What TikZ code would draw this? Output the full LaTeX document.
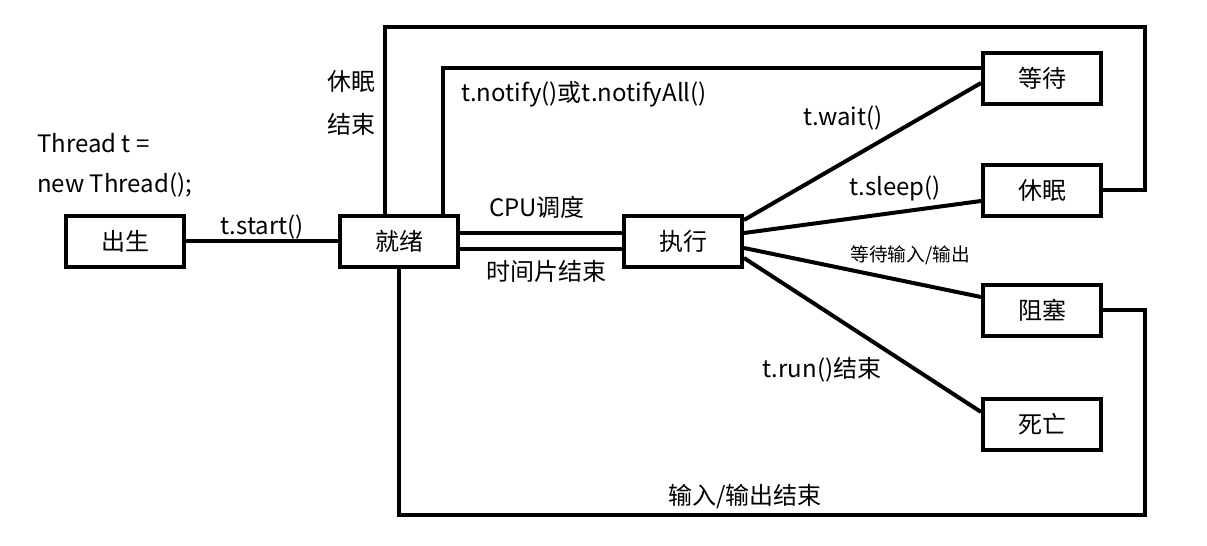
\documentclass[tikz,border=0pt]{standalone}
\usepackage{fontspec}
\setmainfont{Noto Sans CJK SC}
\usetikzlibrary{calc}

\tikzset{
  state/.style={draw, line width=3pt, minimum width=88.5pt, minimum height=38.25pt,
    inner sep=0pt, font=\fontsize{18pt}{21pt}\selectfont},
  lbl/.style={inner sep=0pt, font=\fontsize{18pt}{21pt}\selectfont},
  link/.style={line width=3pt}
}

\begin{document}
\begin{tikzpicture}[x=0.75pt,y=0.75pt,yscale=-1]
%set diagram left start at 0, and has height of 546
\useasboundingbox (0,0) rectangle (1207,546);

%Shape: states
\node[state] (cs) at (125,241) {出生};
\node[state] (jx) at (399,241) {就绪};
\node[state] (zx) at (683,241) {执行};
\node[state] (dd) at (1042,78) {等待};
\node[state] (xm) at (1042,190) {休眠};
\node[state] (zs) at (1042,310) {阻塞};
\node[state] (sw) at (1042,424) {死亡};

%corners of the loops
\coordinate (rtop) at (1145,27);
\coordinate (rbot) at (1145,515);

%Straight Lines
\draw[link] (cs) -- (jx);
\draw[link] ($(jx.east)+(0,-8)$) -- ($(zx.west)+(0,-8)$);
\draw[link] ($(jx.east)+(0,8)$) -- ($(zx.west)+(0,8)$);
\draw[link] ($(zx.east)+(0,-21)$) -- ($(dd.west)+(0,5)$);
\draw[link] ($(zx.east)+(0,-8)$) -- ($(xm.west)+(0,11)$);
\draw[link] ($(zx.east)+(0,7)$) -- ($(zs.west)+(0,-13)$);
\draw[link] ($(zx.east)+(0,17)$) -- ($(sw.west)+(0,-12)$);

%Loops back to ready
\draw[link] (xm.east) -| (rtop) -| ($(jx.north)+(-14,0)$);
\draw[link] ($(dd.west)+(0,-10)$) -| ($(jx.north)+(44,0)$);
\draw[link] (zs.east) -| (rbot) -| (jx.south);

% Text Node
\node[lbl, anchor=west, align=left, font=\fontsize{18pt}{30pt}\selectfont] (thr) at (37,165) {Thread t =\\new Thread();};
% Text Node
\node[lbl] (tstart) at (262,227) {t.start()};
% Text Node
\node[lbl, align=center, font=\fontsize{18pt}{32pt}\selectfont] (xmjs) at (351,103) {休眠\\结束};
% Text Node
\node[lbl] (tnotify) at (584,94) {t.notify()或t.notifyAll()};
% Text Node
\node[lbl] (cpu) at (537,207) {CPU调度};
% Text Node
\node[lbl] (sjp) at (546,271) {时间片结束};
% Text Node
\node[lbl] (twait) at (843,118) {t.wait()};
% Text Node
\node[lbl] (tsleep) at (895,188) {t.sleep()};
% Text Node
\node[lbl, font=\fontsize{14pt}{16pt}\selectfont] (ddio) at (910,255) {等待输入/输出};
% Text Node
\node[lbl] (trun) at (822,370) {t.run()结束};
% Text Node
\node[lbl] (iojs) at (745,497) {输入/输出结束};

\end{tikzpicture}
\end{document}
